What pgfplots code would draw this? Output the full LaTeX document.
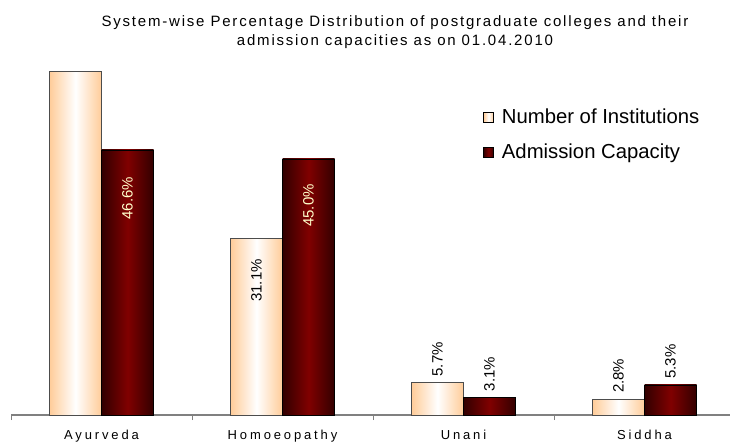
\documentclass[border=0pt]{standalone}
\usepackage{pgfplots}
\pgfplotsset{compat=1.18}
\usepackage{fontspec}
\setmainfont{Liberation Sans}
\definecolor{peach}{RGB}{255,204,153}
\definecolor{maroon}{RGB}{128,0,0}
\definecolor{darkmaroon}{RGB}{50,0,0}
\definecolor{lblyellow}{RGB}{255,255,204}
\definecolor{axgray}{RGB}{128,128,128}
\begin{document}
\begin{tikzpicture}[x=1pt,y=1pt]
\path[use as bounding box] (0,0) rectangle (730,442);
\node[anchor=base, font={\addfontfeatures{LetterSpace=12}\fontsize{15}{19}\selectfont}] at (395,415.3)
 {System-wise Percentage Distribution of postgraduate colleges and their};
\node[anchor=base, font={\addfontfeatures{LetterSpace=12}\fontsize{15}{19}\selectfont}] at (395,396.3)
 {admission capacities as on 01.04.2010};
\begin{axis}[
 at={(11pt,27pt)}, anchor=south west,
 scale only axis, width=718.6pt, height=355pt,
 xmin=-0.5, xmax=3.47, ymin=0, ymax=62.4,
 axis x line*=bottom, axis y line=none,
 x axis line style={axgray, line width=1.3pt, -},
 xtick={0,1,2,3},
 xticklabels={Ayurveda,Homoeopathy,Unani,Siddha},
 major tick length=0pt,
 minor xtick={-0.5,0.5,1.5,2.5},
 minor tick length=5pt, xtick align=outside,
 minor tick style={axgray, line width=1pt},
 xticklabel style={anchor=base, yshift=-24.5pt, font={\addfontfeatures{LetterSpace=22}\fontsize{13}{15}\selectfont}},
 clip=false,
 legend style={at={(0.657,0.868)}, anchor=north west, draw=none, fill=none,
   font=\fontsize{20.3}{23}\selectfont, row sep=15pt, inner sep=0pt, legend cell align=left,
   nodes={inner xsep=8pt}},
 legend image code/.code={\draw[#1,draw=black,line width=0.6pt] (0pt,-5pt) rectangle (10pt,5pt);},
 noi/.style={draw=black!70, line width=0.6pt, left color=peach, right color=peach, middle color=white},
 adm/.style={draw=black, line width=0.6pt, left color=darkmaroon, right color=darkmaroon, middle color=maroon},
 lbl/.style={draw=none, mark=none, forget plot, nodes near coords, point meta=explicit symbolic,
   every node near coord/.append style={font=\fontsize{15}{17}\selectfont, inner sep=0pt, yshift=#1, rotate=90}},
 lblin/.style={lbl=#1, every node near coord/.append style={anchor=east}},
 lblout/.style={lbl=6pt, every node near coord/.append style={anchor=west, black}},
]
\addplot[noi] coordinates {(-0.2873,0) (-0.2873,60.4) (0,60.4) (0,0)} -- cycle;
\addlegendentry{Number of Institutions}
\addplot[adm] coordinates {(0,0) (0,46.6) (0.2873,46.6) (0.2873,0)} -- cycle;
\addlegendentry{Admission Capacity}
\addplot[noi, forget plot] coordinates {(0.7127,0) (0.7127,31.1) (1,31.1) (1,0)} -- cycle;
\addplot[adm, forget plot] coordinates {(1,0) (1,45.0) (1.2873,45.0) (1.2873,0)} -- cycle;
\addplot[noi, forget plot] coordinates {(1.7127,0) (1.7127,5.7) (2,5.7) (2,0)} -- cycle;
\addplot[adm, forget plot] coordinates {(2,0) (2,3.1) (2.2873,3.1) (2.2873,0)} -- cycle;
\addplot[noi, forget plot] coordinates {(2.7127,0) (2.7127,2.8) (3,2.8) (3,0)} -- cycle;
\addplot[adm, forget plot] coordinates {(3,0) (3,5.3) (3.2873,5.3) (3.2873,0)} -- cycle;
% labels
\addplot[lblin=-21pt, every node near coord/.append style={black}]
  coordinates {(0.8563,31.1) [31.1\%]};
\addplot[lblin=-27pt, every node near coord/.append style={lblyellow}]
  coordinates {(0.1437,46.6) [46.6\%]};
\addplot[lblin=-25pt, every node near coord/.append style={lblyellow}]
  coordinates {(1.1437,45.0) [45.0\%]};
\addplot[lblout] coordinates {(1.8563,5.7) [5.7\%] (2.8563,2.8) [2.8\%] (2.1437,3.1) [3.1\%] (3.1437,5.3) [5.3\%]};
\end{axis}
\end{tikzpicture}
\end{document}
